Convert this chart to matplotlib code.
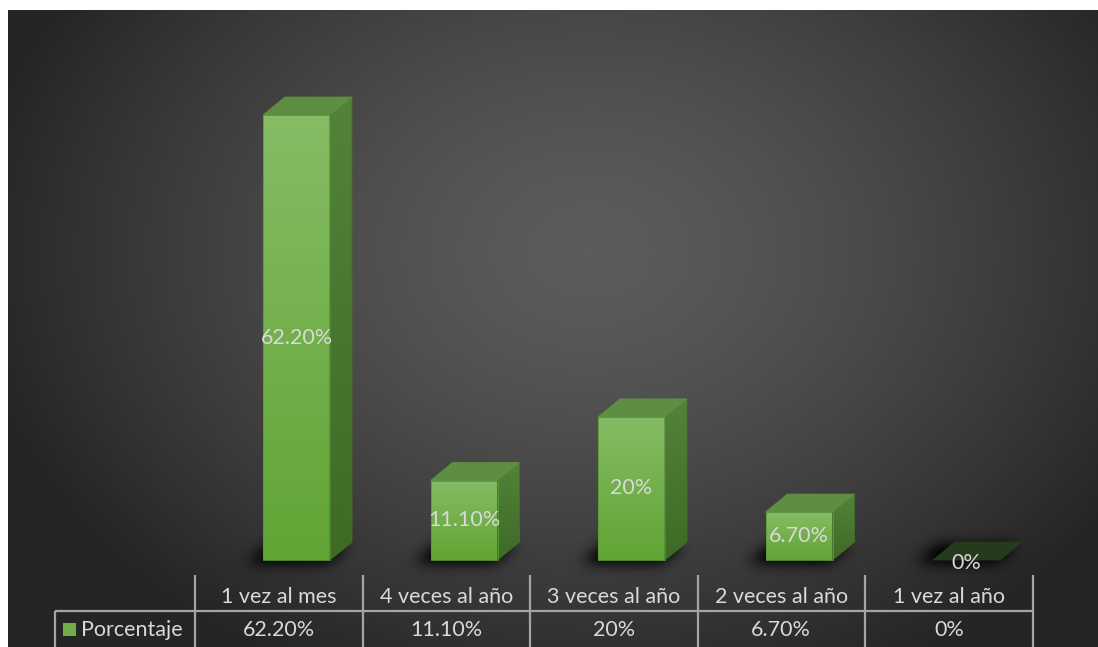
import numpy as np
import matplotlib.pyplot as plt
from matplotlib.patches import Polygon, Rectangle

categories = ["1 vez al mes", "4 veces al año", "3 veces al año",
              "2 veces al año", "1 vez al año"]
values = [62.2, 11.1, 20.0, 6.7, 0.0]
value_labels = ["62.20%", "11.10%", "20%", "6.70%", "0%"]
series_name = "Porcentaje"

W, H = 1098, 647
LEFT, TOP = 8, 10           # white margin around the chart area
X0, SX = 296.5, 167.5       # pixel of category 0, pixels per category
Y0, SY = 560.0, 7.154       # pixel row of 0 %, pixels per percent


def px_x(p):
    return (p - X0) / SX


def px_y(p):
    return (Y0 - p) / SY


fig = plt.figure(figsize=(W / 100, H / 100), dpi=100, facecolor="white")
ax = fig.add_axes([LEFT / W, 0, (W - LEFT) / W, (H - TOP) / H])
ax.set_axis_off()
xmin, xmax = px_x(LEFT), px_x(W)
ymin, ymax = px_y(H), px_y(TOP)
ax.set_xlim(xmin, xmax)
ax.set_ylim(ymin, ymax)

font = ["Lato", "DejaVu Sans"]
txt = "#d9d9d9"
fs = 15.5

# radial grey background
nx, ny = W - LEFT, H - TOP
fx, fy = np.meshgrid(np.arange(nx) + LEFT, np.arange(ny) + TOP)
r = np.sqrt(((fx - 590) / 620) ** 2 + ((fy - 250) / 470) ** 2)
g = (0x5c - 0x37 * np.clip(r, 0, 1) ** 1.4) / 255
bg = np.dstack([g, g, g])
ax.imshow(bg, extent=[xmin, xmax, ymin, ymax], aspect="auto", zorder=0,
          interpolation="bilinear")

hw = 0.2                    # half bar width (categories)
dx, dy = 22 / SX, 18 / SY   # depth offset of the 3D boxes

# soft floor shadows
gx, gy = np.meshgrid(np.linspace(xmin, xmax, nx), np.linspace(ymax, ymin, ny))
mask = np.zeros((ny, nx))
for i in range(len(values)):
    c = i - 8 / SX
    y0 = -3 / SY
    t = (gy - y0) / dy
    inside = (t >= 0) & (t <= 1)
    xx = gx - t * dx
    inside &= (xx >= c - hw - 0.05) & (xx <= c + hw + 0.03)
    mask[inside] = 1.0


def blur(a, sigma):
    k = np.arange(-3 * sigma, 3 * sigma + 1)
    ker = np.exp(-0.5 * (k / sigma) ** 2)
    ker /= ker.sum()
    n = len(k) // 2
    p = np.pad(a, ((0, 0), (n, n)))
    a = sum(w * p[:, j:j + a.shape[1]] for j, w in enumerate(ker))
    p = np.pad(a, ((n, n), (0, 0)))
    a = sum(w * p[j:j + a.shape[0], :] for j, w in enumerate(ker))
    return a


shadow = np.zeros((ny, nx, 4))
shadow[..., 3] = np.clip(blur(mask, 7) * 1.4, 0, 1) * 0.85
ax.imshow(shadow, extent=[xmin, xmax, ymin, ymax], aspect="auto", zorder=1)


def vgrad(top, bottom, n=64):
    a = np.array([int(top[k:k + 2], 16) for k in (1, 3, 5)]) / 255
    b = np.array([int(bottom[k:k + 2], 16) for k in (1, 3, 5)]) / 255
    t = np.linspace(0, 1, n)[:, None]
    return (a * (1 - t) + b * t)[:, None, :]


for i, (v, lab) in enumerate(zip(values, value_labels)):
    x0, x1 = i - hw, i + hw
    if v > 0:
        ax.imshow(vgrad("#85bc64", "#61a535"), extent=[x0, x1, 0, v],
                  aspect="auto", zorder=3, interpolation="bilinear")
        ax.add_patch(Rectangle((x0, 0), x1 - x0, v, fill=False,
                               ec="#5a9a34", lw=0.6, zorder=4))
        side = Polygon([(x1, 0), (x1, v), (x1 + dx, v + dy), (x1 + dx, dy)],
                       closed=True, fc="none", ec="#456f2d", lw=0.6, zorder=4)
        ax.add_patch(side)
        im = ax.imshow(vgrad("#53833a", "#3e6a26"),
                       extent=[x1, x1 + dx, 0, v + dy], aspect="auto",
                       zorder=3, interpolation="bilinear")
        im.set_clip_path(side)
        top_col = "#5e8e42"
    else:
        top_col = "#263b1d"
    ax.add_patch(Polygon([(x0, v), (x1, v), (x1 + dx, v + dy), (x0 + dx, v + dy)],
                         closed=True, fc=top_col, ec=top_col, lw=0.6, zorder=4))
    ax.text(i, v / 2 - (0.45 if v == 0 else 0), lab, ha="center", va="center",
            color=txt, fontsize=fs, family=font, zorder=6)

# data table under the plot
edges = [px_x(195) + k for k in range(len(categories) + 1)]
line_kw = dict(color="#a5a5a5", lw=1.6, zorder=5, solid_capstyle="butt")
for e in edges:
    ax.plot([e, e], [px_y(575), ymin], **line_kw)
ax.plot([px_x(55), edges[-1]], [px_y(611), px_y(611)], **line_kw)
ax.plot([px_x(55), px_x(55)], [px_y(611), ymin], **line_kw)

for i, (cat, lab) in enumerate(zip(categories, value_labels)):
    cx = (edges[i] + edges[i + 1]) / 2
    ax.text(cx, px_y(597), cat, ha="center", va="center", color=txt,
            fontsize=fs, family=font, zorder=6)
    ax.text(cx, px_y(630), lab, ha="center", va="center", color=txt,
            fontsize=fs, family=font, zorder=6)

ax.add_patch(Rectangle((px_x(63), px_y(636)), 13 / SX, 13 / SY,
                       fc="#70ad47", ec="none", zorder=6))
ax.text(px_x(81), px_y(630), series_name, ha="left", va="center", color=txt,
        fontsize=fs, family=font, zorder=6)

fig.savefig("out.png", dpi=100, facecolor="white")
